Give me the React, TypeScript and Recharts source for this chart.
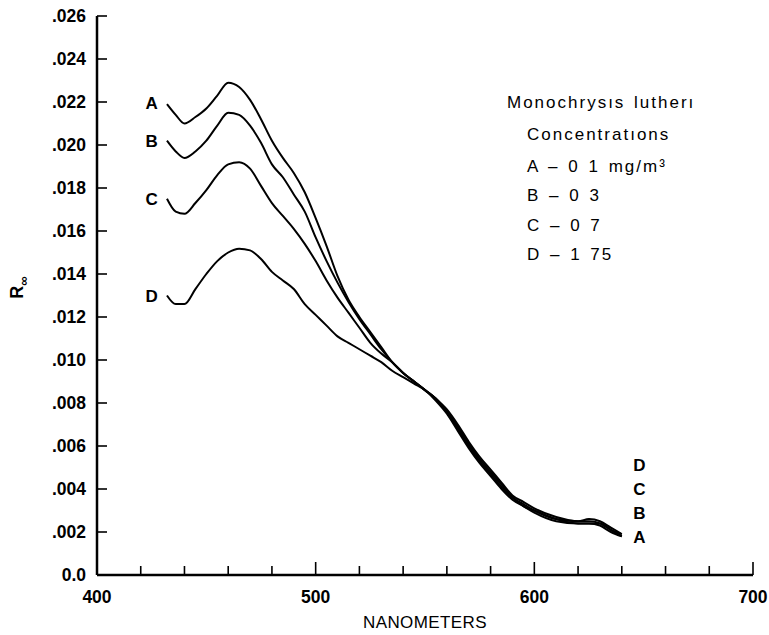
import { LineChart, Line, XAxis, YAxis, ReferenceDot, Label } from "recharts";

// wavelength (nm) and reflectance R∞
const nm = [432, 436, 440, 445, 450, 455, 460, 465, 470, 475, 480, 485, 490, 495, 500, 505, 510, 515, 520, 525, 530, 535, 540, 545, 550, 555, 560, 565, 570, 575, 580, 585, 590, 595, 600, 610, 620, 625, 630, 635, 640];
const curveA = [.0219, .0214, .0210, .0213, .0217, .0223, .0229, .0227, .0221, .0212, .0202, .0194, .0187, .0178, .0166, .0153, .0139, .0128, .0120, .0113, .0106, .0099, .0094, .0090, .0086, .0081, .0075, .0067, .0059, .0052, .0046, .0040, .0035, .0032, .0029, .0025, .0024, .0024, .0023, .0020, .0018];
const curveB = [.0202, .0197, .0194, .0197, .0202, .0209, .0215, .0214, .0209, .0201, .0191, .0185, .0177, .0169, .0157, .0146, .0136, .0127, .0119, .0112, .0105, .0099, .0094, .0090, .0086, .0082, .0076, .0068, .0060, .0053, .0047, .0041, .0036, .0032, .0030, .0026, .0024, .0024, .0024, .0021, .0018];
const curveC = [.0175, .0169, .0168, .0173, .0179, .0186, .0191, .0192, .0189, .0181, .0173, .0167, .0161, .0154, .0146, .0137, .0129, .0122, .0115, .0108, .0103, .0099, .0094, .0090, .0086, .0082, .0076, .0069, .0061, .0054, .0048, .0042, .0036, .0033, .0030, .0026, .0025, .0025, .0024, .0021, .0019];
const curveD = [.0130, .0126, .0126, .0133, .0140, .0146, .0150, .01518, .0151, .0147, .0141, .0137, .0133, .0126, .0121, .0116, .0111, .0108, .0105, .0102, .0099, .0095, .0092, .0089, .0086, .0082, .0077, .0070, .0062, .0055, .0049, .0043, .0037, .0034, .0031, .0027, .0025, .0026, .0025, .0022, .0019];

const xTicks = [400, 420, 440, 460, 480, 500, 520, 540, 560, 580, 600, 620, 640, 660, 680, 700];
const xLabels = [400, 500, 600, 700];
const yTicks = [0, .002, .004, .006, .008, .010, .012, .014, .016, .018, .020, .022, .024, .026];

// curve letters: left ends and right-hand stack
const leftLetters = [
  { name: "A", y: .02195 },
  { name: "B", y: .0202 },
  { name: "C", y: .0175 },
  { name: "D", y: .0130 },
];
const rightLetters = [
  { name: "D", y: .0051 },
  { name: "C", y: .0040 },
  { name: "B", y: .0029 },
  { name: "A", y: .00175 },
];
const leftLetterNm = 425;
const rightLetterNm = 648;

const legendLines = ["Monochrysıs lutherı", "Concentratıons", "A – 0 1 mg/m³", "B – 0 3", "C – 0 7", "D – 1 75"];

const data = nm.map((x, i) => ({ nm: x, A: curveA[i], B: curveB[i], C: curveC[i], D: curveD[i] }));

const FONT = "'Liberation Sans', Arial, sans-serif";

const fmtY = (v: number) => (v === 0 ? "0.0" : v.toFixed(3).replace(/^0/, ""));

function BottomTick(props: any) {
  const { x, y, payload } = props;
  const major = payload.value % 100 === 0;
  const len = major ? 13 : 9;
  return (
    <g>
      <line x1={x} x2={x} y1={y} y2={y - len} stroke="#000" strokeWidth={1.6} />
      {xLabels.includes(payload.value) && (
        <text x={x} y={y + 28} textAnchor="middle" fontFamily={FONT} fontWeight="bold" fontSize={17.5} fill="#000">
          {payload.value}
        </text>
      )}
    </g>
  );
}

function TopTick(props: any) {
  const { x, y, payload } = props;
  const len = payload.value % 100 === 0 ? 13 : 10;
  return <line x1={x} x2={x} y1={y} y2={y + len} stroke="#000" strokeWidth={1.6} />;
}

function LeftTick(props: any) {
  const { x, y, payload } = props;
  return (
    <g>
      <line x1={x} x2={x + 10} y1={y} y2={y} stroke="#000" strokeWidth={1.6} />
      <text x={x - 11} y={y} dy="0.36em" textAnchor="end" fontFamily={FONT} fontWeight="bold" fontSize={17.5} fill="#000">
        {fmtY(payload.value)}
      </text>
    </g>
  );
}

function RightTick(props: any) {
  const { x, y } = props;
  return <line x1={x} x2={x - 10} y1={y} y2={y} stroke="#000" strokeWidth={1.6} />;
}

function letterShape(name: string) {
  return (p: any) => (
    <text x={p.cx} y={p.cy} dy="0.36em" textAnchor="middle" fontFamily={FONT} fontWeight="bold" fontSize={17} fill="#000">
      {name}
    </text>
  );
}

function YTitle(props: any) {
  const vb = props.viewBox;
  const cx = 17;
  const cy = vb.y + vb.height / 2 - 8;
  return (
    <text transform={`rotate(-90 ${cx} ${cy})`} x={cx} y={cy} dy="0.36em" textAnchor="middle" fontFamily={FONT} fontWeight="bold" fontSize={18} fill="#000">
      R<tspan fontSize={13} dy="5">∞</tspan>
    </text>
  );
}

export default function App() {
  return (
    <div style={{ position: "absolute", left: 0, top: 0, width: 769, height: 635, background: "#fff" }}>
      <LineChart width={769} height={635} data={data} margin={{ top: 16, right: 16, bottom: 0, left: 0 }}>
        <XAxis
          xAxisId="b"
          dataKey="nm"
          type="number"
          domain={[400, 700]}
          ticks={xTicks}
          height={60}
          axisLine={{ stroke: "#000", strokeWidth: 2.5 }}
          tickLine={false}
          tickSize={0}
          tickMargin={0}
          tick={<BottomTick />}
          interval={0}
        >
          <Label value="NANOMETERS" position="insideBottom" offset={7} style={{ fontFamily: FONT, fontSize: 17, fill: "#000", letterSpacing: 0.4 }} />
        </XAxis>
        <XAxis
          xAxisId="t"
          orientation="top"
          dataKey="nm"
          type="number"
          domain={[400, 700]}
          ticks={xTicks}
          height={0}
          axisLine={{ stroke: "#000", strokeWidth: 2 }}
          tickLine={false}
          tickSize={0}
          tickMargin={0}
          tick={<TopTick />}
          interval={0}
        />
        <YAxis
          yAxisId="l"
          type="number"
          domain={[0, 0.026]}
          ticks={yTicks}
          width={97}
          axisLine={{ stroke: "#000", strokeWidth: 2.5 }}
          tickLine={false}
          tickSize={0}
          tickMargin={0}
          tick={<LeftTick />}
          interval={0}
        >
          <Label content={<YTitle />} />
        </YAxis>
        <YAxis
          yAxisId="r"
          orientation="right"
          type="number"
          domain={[0, 0.026]}
          ticks={yTicks}
          width={0}
          axisLine={{ stroke: "#000", strokeWidth: 2.5 }}
          tickLine={false}
          tickSize={0}
          tickMargin={0}
          tick={<RightTick />}
          interval={0}
        />
        {(["A", "B", "C", "D"] as const).map((k) => (
          <Line
            key={k}
            xAxisId="b"
            yAxisId="l"
            dataKey={k}
            type="monotone"
            stroke="#000"
            strokeWidth={2}
            dot={false}
            isAnimationActive={false}
          />
        ))}
        {leftLetters.map((l) => (
          <ReferenceDot key={"l" + l.name} xAxisId="b" yAxisId="l" x={leftLetterNm} y={l.y} r={0} shape={letterShape(l.name)} />
        ))}
        {rightLetters.map((l) => (
          <ReferenceDot key={"r" + l.name} xAxisId="b" yAxisId="l" x={rightLetterNm} y={l.y} r={0} shape={letterShape(l.name)} />
        ))}
      </LineChart>
      <div style={{ position: "absolute", left: 0, top: 0, fontFamily: FONT, fontSize: 17, color: "#000", letterSpacing: 2, wordSpacing: 2 }}>
        {legendLines.map((t, i) => (
          <div
            key={i}
            style={{
              position: "absolute",
              left: i === 0 ? 507 : 527,
              top: [103, 135, 167, 196, 226, 255][i] - 11,
              whiteSpace: "nowrap",
              lineHeight: "22px",
            }}
          >
            {t}
          </div>
        ))}
      </div>
    </div>
  );
}
